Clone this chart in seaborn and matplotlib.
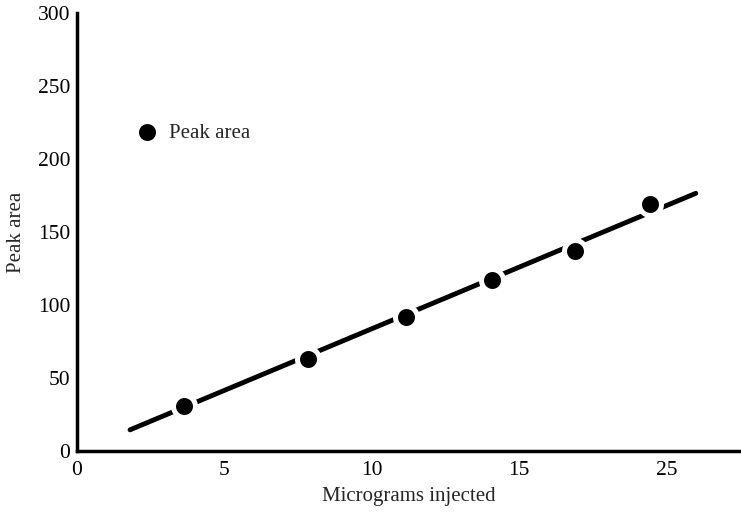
import matplotlib
matplotlib.use("Agg")
import matplotlib.pyplot as plt
import seaborn as sns
import numpy as np
import pandas as pd

# data
micrograms = [3.63, 7.84, 11.17, 14.09, 16.9, 19.45]
peak_area = [31, 63, 92, 117, 137, 169]
fit_x = [1.8, 21.0]
fit_y = [14.5, 176.5]
xtick_pos = [0, 5, 10, 15, 20]
xtick_labels = ["0", "5", "10", "15", "25"]
ytick_pos = [0, 50, 100, 150, 200, 250, 300]

sns.set_theme(style="white")
plt.rcParams['font.family'] = ['Liberation Serif', 'DejaVu Serif']

fig = plt.figure(figsize=(7.41, 5.14), dpi=100)
ax = fig.add_axes([77/741, 1 - 451/514, 663/741, 438/514])

df = pd.DataFrame({"x": micrograms, "y": peak_area})
fit = pd.DataFrame({"x": fit_x, "y": fit_y})

sns.lineplot(data=fit, x="x", y="y", ax=ax, color="black", linewidth=3.5,
             legend=False)
ax.lines[0].set_solid_capstyle("round")
sns.scatterplot(data=df, x="x", y="y", ax=ax, color="black", s=250,
                edgecolor="white", linewidth=3.6, label="Peak area", zorder=5)

ax.set_xlim(0, 22.5)
ax.set_ylim(0, 300)
ax.set_xticks(xtick_pos)
ax.set_xticklabels(xtick_labels)
ax.set_yticks(ytick_pos)
ax.set_xlabel("Micrograms injected", fontsize=15, labelpad=5)
ax.set_ylabel("Peak area", fontsize=15, labelpad=8)
ax.tick_params(axis="both", direction="in", length=6, width=2, labelsize=15.5,
               colors="black")
ax.tick_params(axis="x", pad=7)
ax.tick_params(axis="y", pad=5)
for s in ["top", "right"]:
    ax.spines[s].set_visible(False)
for s in ["left", "bottom"]:
    ax.spines[s].set_linewidth(2.5)
    ax.spines[s].set_color("black")

leg = ax.legend(loc="center left", bbox_to_anchor=(0.062, 0.726), frameon=False,
                fontsize=15, handletextpad=0.05, borderaxespad=0)

fig.savefig("out.png", dpi=100)
